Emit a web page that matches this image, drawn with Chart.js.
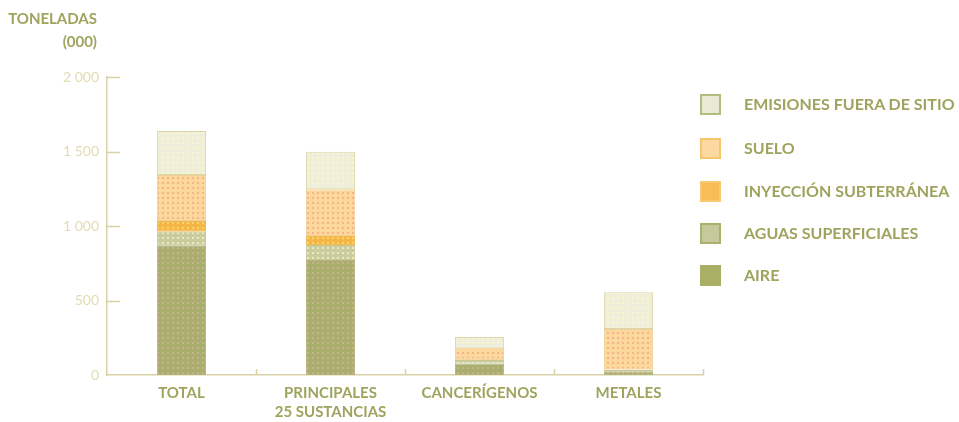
<!DOCTYPE html>
<html>
<head>
<meta charset="utf-8">
<script src="https://cdn.jsdelivr.net/npm/chart.js@4.4.0/dist/chart.umd.min.js"></script>
<style>
    body { margin: 0; background: #fff; }
    #wrap { position: relative; width: 959px; height: 422px; font-family: Lato, sans-serif; }
    #chart { position: absolute; left: 0; top: 0; }
    .unit { position: absolute; right: 862px; font-weight: 700; font-size: 15px; color: #9ea45e; text-align: right; line-height: 16px; }
    #legend { position: absolute; left: 700px; top: 0; }
    .item { position: absolute; left: 0; white-space: nowrap; }
    .box { position: absolute; left: 0; width: 17px; height: 17px; border: 2px solid; }
    .label { position: absolute; left: 44px; top: 0px; font-weight: 700; font-size: 16px; color: #9ea45e; line-height: 20px; }
</style>
</head>
<body>
<div id="wrap">
    <canvas id="chart" width="959" height="422"></canvas>
    <div class="unit" style="top:10px;">TONELADAS</div>
    <div class="unit" style="top:33px;">(000)</div>
    <div id="legend"></div>
</div>
<script>
// categories and series (thousand tonnes)
const categories = ['TOTAL', ['PRINCIPALES', '25 SUSTANCIAS'], 'CANCERÍGENOS', 'METALES'];
const seriesNames = ['AIRE', 'AGUAS SUPERFICIALES', 'INYECCIÓN SUBTERRÁNEA', 'SUELO', 'EMISIONES FUERA DE SITIO'];
const aire = [870, 772, 78, 25];
const aguas = [92, 100, 22, 10];
const inyeccion = [72, 61, 5, 3];
const suelo = [308, 313, 78, 270];
const fueraDeSitio = [296, 253, 72, 247];
const yTicks = [0, 500, 1000, 1500, 2000];

const textColor = '#9ea45e';
const axisColor = '#d9d1a4';

// bar fill = base colour with a small dot grid, like the printed screen
function dotted(base, dot) {
    const c = document.createElement('canvas');
    c.width = c.height = 5;
    const g = c.getContext('2d');
    g.fillStyle = base;
    g.fillRect(0, 0, 5, 5);
    g.fillStyle = dot;
    g.fillRect(2, 2, 2, 2);
    return g.createPattern(c, 'repeat');
}

const styles = [
    { bar: dotted('#a9ae6c', '#c6b291'), border: '#b4b57a', swatch: '#a9b066', swatchBorder: '#a9b066' },
    { bar: dotted('#cbcc9c', '#ebe8c6'), border: '#c8c896', swatch: '#c6c99b', swatchBorder: '#abb06d' },
    { bar: dotted('#f4b647', '#f9d568'), border: '#f1b650', swatch: '#f7bd57', swatchBorder: '#f9c872' },
    { bar: dotted('#fcd89c', '#f3b487'), border: '#f1d09a', swatch: '#fcd9a1', swatchBorder: '#f6c56d' },
    { bar: dotted('#eeeedb', '#faf6cc'), border: '#d8d6a8', swatch: '#e9ead6', swatchBorder: '#b5bb7c' }
];
const seriesData = [aire, aguas, inyeccion, suelo, fueraDeSitio];

const datasets = seriesNames.map((name, i) => ({
    label: name,
    data: seriesData[i],
    backgroundColor: styles[i].bar,
    borderColor: styles[i].border,
    borderWidth: 1,
    borderSkipped: false,
    barPercentage: 0.33,
    categoryPercentage: 1
}));

// inward y ticks and category separators on the x axis
const axisMarks = {
    id: 'axisMarks',
    afterDraw(chart) {
        const ctx = chart.ctx;
        const y = chart.scales.y, x = chart.scales.x;
        const area = chart.chartArea;
        ctx.save();
        ctx.strokeStyle = axisColor;
        ctx.lineWidth = 1.5;
        y.ticks.forEach(t => {
            if (t.value === 0) return;
            const py = Math.round(y.getPixelForValue(t.value)) + 0.5;
            ctx.beginPath();
            ctx.moveTo(area.left, py);
            ctx.lineTo(area.left + 13, py);
            ctx.stroke();
        });
        const half = (x.getPixelForValue(1) - x.getPixelForValue(0)) / 2;
        categories.forEach((c, i) => {
            const px = Math.round(x.getPixelForValue(i) + half) + 0.5;
            ctx.beginPath();
            ctx.moveTo(px, area.bottom);
            ctx.lineTo(px, area.bottom - 6);
            ctx.stroke();
        });
        ctx.restore();
    }
};

new Chart(document.getElementById('chart'), {
    type: 'bar',
    data: { labels: categories, datasets: datasets },
    plugins: [axisMarks],
    options: {
        responsive: false,
        animation: false,
        layout: { padding: { top: 77, right: 256, bottom: 0, left: 0 } },
        plugins: { legend: { display: false }, tooltip: { enabled: false } },
        scales: {
            x: {
                stacked: true,
                afterFit(scale) { scale.height = 47; },
                grid: { display: false },
                border: { color: axisColor, width: 1.5, dash: [2, 2] },
                ticks: {
                    color: textColor,
                    padding: 1,
                    font: { family: 'Lato', size: 15, weight: 'bold', lineHeight: 1.25 }
                }
            },
            y: {
                stacked: true,
                min: 0,
                max: 2000,
                afterFit(scale) { scale.width = 107; },
                afterBuildTicks(scale) { scale.ticks = yTicks.map(v => ({ value: v })); },
                grid: { display: false },
                border: { color: axisColor, width: 1.5 },
                ticks: {
                    color: '#e2dcb1',
                    padding: 0,
                    font: { family: 'Lato', size: 14 },
                    callback: v => String(v).replace(/\B(?=(\d{3})+$)/, ' ')
                }
            }
        }
    }
});

// legend, top entry is the last series (same order as the stack)
const legendTops = [265, 223, 181, 138, 94];
const legend = document.getElementById('legend');
seriesNames.forEach((name, i) => {
    const item = document.createElement('div');
    item.className = 'item';
    item.style.top = legendTops[i] + 'px';
    const box = document.createElement('div');
    box.className = 'box';
    box.style.background = styles[i].swatch;
    box.style.borderColor = styles[i].swatchBorder;
    const label = document.createElement('div');
    label.className = 'label';
    label.textContent = name;
    item.appendChild(box);
    item.appendChild(label);
    legend.appendChild(item);
});
</script>
</body>
</html>
